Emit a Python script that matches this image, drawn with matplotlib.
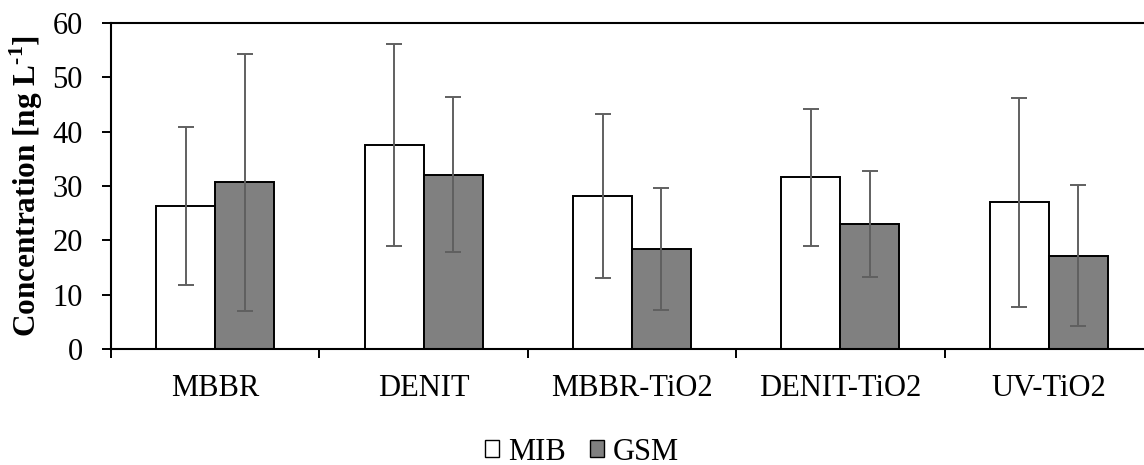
import numpy as np
import matplotlib.pyplot as plt
from matplotlib.patches import Patch

categories = ["MBBR", "DENIT", "MBBR-TiO2", "DENIT-TiO2", "UV-TiO2"]
mib = [26.3, 37.5, 28.1, 31.6, 27.0]
mib_err = [14.6, 18.6, 15.1, 12.6, 19.2]
gsm = [30.65, 32.1, 18.4, 23.0, 17.2]
gsm_err = [23.7, 14.3, 11.3, 9.7, 13.05]

plt.rcParams["font.family"] = ["Liberation Serif", "DejaVu Serif"]
plt.rcParams["mathtext.fontset"] = "custom"
plt.rcParams["mathtext.rm"] = "Liberation Serif:bold"
plt.rcParams["mathtext.bf"] = "Liberation Serif:bold"

fig = plt.figure(figsize=(11.44, 4.65), dpi=100)
ax = fig.add_axes([111 / 1144, 1 - 349 / 465, 1042 / 1144, 326 / 465])

x = np.arange(len(categories))
w = 0.283
err_kw = dict(ecolor="#606060", elinewidth=1.4, capsize=6, capthick=1.4)
ax.bar(x - w / 2, mib, w, yerr=mib_err, color="white", edgecolor="black",
       linewidth=1.4, error_kw=err_kw, label="MIB")
ax.bar(x + w / 2, gsm, w, yerr=gsm_err, color="#808080", edgecolor="black",
       linewidth=1.4, error_kw=err_kw, label="GSM")

ax.set_xlim(-0.5, len(categories) - 0.5)
ax.set_ylim(0, 60)
ax.set_yticks(range(0, 61, 10))
ax.set_xticks(x)
ax.set_xticklabels(categories)
ax.set_xticks(np.arange(-0.5, len(categories), 1.0), minor=True)
ax.tick_params(axis="x", which="major", length=0, pad=18, labelsize=22)
ax.tick_params(axis="x", which="minor", length=6.5, width=1.4, direction="out")
ax.tick_params(axis="y", length=6.5, width=1.4, direction="out", labelsize=22, pad=14)
for s in ["left", "bottom", "top"]:
    ax.spines[s].set_linewidth(1.5)
ax.spines["right"].set_visible(False)

ax.set_ylabel(r"Concentration [ng L$^{\text{-1}}$]", fontsize=22.5,
              fontweight="bold", labelpad=5)

handles = [Patch(facecolor="white", edgecolor="black", linewidth=1),
           Patch(facecolor="#808080", edgecolor="black", linewidth=1)]
fig.legend(handles, ["MIB", "GSM"], loc="center", bbox_to_anchor=(582 / 1144, 1 - 452 / 465),
           ncol=2, frameon=False, fontsize=22, handlelength=0.45, handleheight=0.45,
           handletextpad=0.3, columnspacing=0.8, borderpad=0)

fig.savefig("out.png", dpi=100, facecolor="white")
